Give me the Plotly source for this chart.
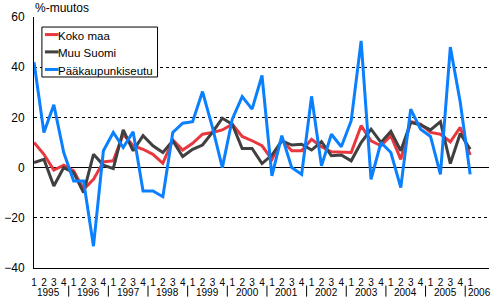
import plotly.graph_objects as go

years = [str(y) for y in range(1995, 2007)]
quarters = ["1", "2", "3", "4"] * 11 + ["1"]

koko_maa = [10, 5.3, -1, 1, -1.3, -8.7, -4.7, 2.3, 2.7, 13.3, 8.7, 7.3, 5.3, 1.7, 11, 7,
            9.7, 13.3, 14, 15, 17.3, 12.4, 10.7, 8.7, 3.3, 11, 6.7, 6.7, 11.3, 8.3, 6.3, 6,
            6, 16.7, 10.7, 8.7, 12.7, 3.3, 18.3, 17.3, 14, 13.3, 10.3, 16, 5]
muu_suomi = [2, 3.3, -7.3, 0, -2, -10, 5.3, 1, -0.4, 15, 6.7, 12.7, 8.7, 6, 10.7, 4.4,
             7.3, 9, 14, 19.7, 17.3, 7.6, 7.6, 1.6, 5, 10.7, 9, 9.3, 7, 10.3, 4.7, 5,
             2.7, 10, 15.3, 10, 14.4, 6.7, 18, 17, 15, 18.3, 1.6, 13.6, 7.3]
paakaupunkiseutu = [42, 14, 25, 6, -5.3, -5.3, -31.3, 6.7, 14, 8, 14.3, -9.3, -9.3, -11.6, 14, 17.7,
                    18.3, 30.3, 16, 0, 19.3, 28.3, 23.3, 36.7, -3.3, 12.7, 0, -2.7, 28.4, 0.7, 13.3, 8.3,
                    18.7, 50.5, -4.7, 10, 6, -8, 23.3, 15.3, 12.4, -2.7, 48, 26, -2.7]

series_names = ["Koko maa", "Muu Suomi", "Pääkaupunkiseutu"]
series_values = [koko_maa, muu_suomi, paakaupunkiseutu]
series_colors = ["#e8383d", "#404040", "#0a80ff"]

x = list(range(len(quarters)))
FONT = "Liberation Sans, Arial, sans-serif"

fig = go.Figure()
for name, vals, col in zip(series_names, series_values, series_colors):
    fig.add_trace(go.Scatter(x=x, y=vals, mode="lines", name=name,
                             line=dict(color=col, width=3)))

annotations = [dict(text="%-muutos", xref="paper", yref="paper", x=-0.002, y=1.036,
                    xanchor="left", yanchor="middle", showarrow=False,
                    font=dict(size=12, color="black", family=FONT))]
shapes = []
for k, yr in enumerate(years):
    if yr == "2006":
        annotations.append(dict(text=yr, xref="x", yref="paper", x=4 * k - 0.45, y=-0.098,
                                xanchor="left", yanchor="middle", showarrow=False,
                                font=dict(size=10, color="black", family=FONT)))
    else:
        annotations.append(dict(text=yr, xref="x", yref="paper", x=4 * k + 1.5, y=-0.098,
                                xanchor="center", yanchor="middle", showarrow=False,
                                font=dict(size=10, color="black", family=FONT)))
    if k > 0:
        shapes.append(dict(type="line", xref="x", yref="paper", x0=4 * k - 0.5, x1=4 * k - 0.5,
                           y0=-0.07, y1=-0.114, line=dict(color="black", width=1)))

# custom legend box (compact, like the original)
shapes.append(dict(type="rect", xref="paper", yref="paper", x0=0.0174, x1=0.2715,
                   y0=0.761, y1=0.960, line=dict(color="black", width=1),
                   fillcolor="white", layer="above"))
leg_y = [0.930, 0.861, 0.791]
for name, col, ly in zip(series_names, series_colors, leg_y):
    shapes.append(dict(type="line", xref="paper", yref="paper", x0=0.024, x1=0.054,
                       y0=ly, y1=ly, line=dict(color=col, width=3), layer="above"))
    annotations.append(dict(text=name, xref="paper", yref="paper", x=0.049, y=ly - 0.005,
                            xanchor="left", yanchor="middle", showarrow=False,
                            font=dict(size=11.5, color="black", family=FONT)))

fig.update_layout(
    width=493, height=298,
    margin=dict(l=29, r=4, t=17, b=30),
    paper_bgcolor="white", plot_bgcolor="white",
    font=dict(family=FONT, color="black", size=11),
    showlegend=False,
    annotations=annotations,
    shapes=shapes,
)
fig.update_xaxes(range=[0, 45.9], tickmode="array", tickvals=x, ticktext=quarters,
                 showgrid=False, zeroline=False, showline=True, linecolor="black",
                 linewidth=1, ticks="", ticklabelstandoff=5,
                 tickfont=dict(size=10, family=FONT))
fig.update_yaxes(range=[-40, 60], tickmode="array", tickvals=[-40, -20, 0, 20, 40, 60],
                 showgrid=True, gridcolor="black", gridwidth=1, griddash="dot",
                 zeroline=True, zerolinecolor="black", zerolinewidth=1,
                 showline=True, linecolor="black", linewidth=1, ticks="",
                 ticklabelstandoff=6, tickfont=dict(size=12, family=FONT))

fig.write_html("out.html")
